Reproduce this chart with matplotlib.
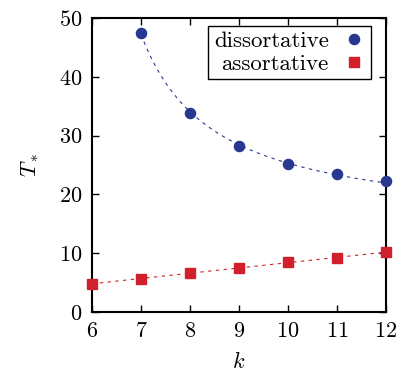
import numpy as np
import matplotlib
matplotlib.use("Agg")
import matplotlib.pyplot as plt

# data
k_dis = [7, 8, 9, 10, 11, 12]
T_dis = [47.4, 33.9, 28.2, 25.2, 23.4, 22.3]
k_ass = [6, 7, 8, 9, 10, 11, 12]
T_ass = [4.8, 5.7, 6.6, 7.5, 8.5, 9.2, 10.2]

blue = "#283891"
red = "#d21f2c"

plt.rcParams["font.family"] = "serif"
plt.rcParams["font.serif"] = ["cmr10"]
plt.rcParams["mathtext.fontset"] = "cm"
plt.rcParams["axes.formatter.use_mathtext"] = True
plt.rcParams["font.size"] = 16

# -------------------------------
# fit curves (dashed guides)
# dissortative: T = a + b/(k - c), best c by scan
# assortative: straight line
# -------------------------------
kd = np.array(k_dis, float)
td = np.array(T_dis, float)
best = None
for c in np.linspace(3.0, 5.5, 300):
    p = np.polyfit(1.0 / (kd - c), td, 1)
    err = np.sum((np.polyval(p, 1.0 / (kd - c)) - td) ** 2)
    if best is None or err < best[0]:
        best = (err, c, p)
_, c_fit, p_dis = best
kk_dis = np.linspace(7, 12, 200)
fit_dis = np.polyval(p_dis, 1.0 / (kk_dis - c_fit))

p_ass = np.polyfit(k_ass, T_ass, 1)
kk_ass = np.linspace(6, 12, 50)
fit_ass = np.polyval(p_ass, kk_ass)

fig = plt.figure(figsize=(4.04, 3.71), dpi=100)
ax = fig.add_axes([0.228, 0.159, 0.727, 0.792])

ax.plot(kk_dis, fit_dis, ls=(0, (3, 4)), lw=0.8, color=blue)
ax.plot(kk_ass, fit_ass, ls=(0, (3, 4)), lw=0.8, color=red)
ax.plot(k_dis, T_dis, "o", ms=7.3, color=blue, label="dissortative", clip_on=False, zorder=3)
ax.plot(k_ass, T_ass, "s", ms=7.3, color=red, label="assortative", clip_on=False, zorder=3)

ax.set_xlim(6, 12)
ax.set_ylim(0, 50)
ax.set_xticks(range(6, 13))
ax.set_yticks(range(0, 51, 10))
ax.tick_params(direction="in", length=5, width=1, top=True, right=True, pad=7)
for s in ax.spines.values():
    s.set_linewidth(1.5)

ax.set_xlabel("$k$", labelpad=7)
ax.set_ylabel("$T_*$", labelpad=13)

leg = ax.legend(loc="upper right", bbox_to_anchor=(0.95, 0.975), markerfirst=False,
                frameon=True, fancybox=False, edgecolor="black", framealpha=1,
                handletextpad=0.6, handlelength=1.0, borderpad=0.25, labelspacing=0.1,
                borderaxespad=0.0, fontsize=16.5)
leg.get_frame().set_linewidth(1.0)

fig.savefig("out.png", dpi=100)
